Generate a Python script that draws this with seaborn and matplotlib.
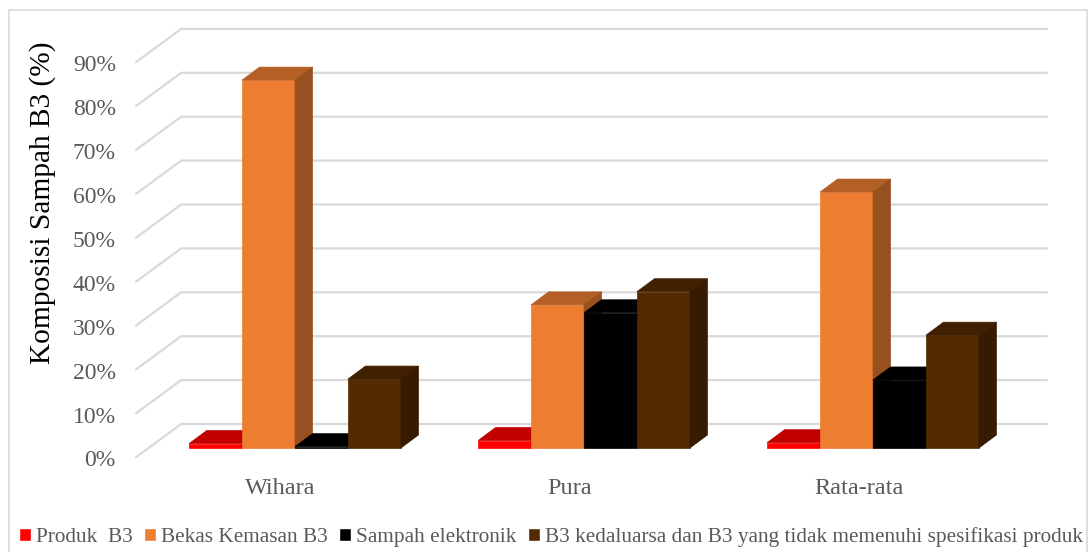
import pandas as pd
import numpy as np
import matplotlib.pyplot as plt
import matplotlib.transforms as mtrans
from matplotlib.patches import Polygon, Rectangle
from matplotlib.colors import to_rgb
import seaborn as sns

lokasi = ["Wihara", "Pura", "Rata-rata"]
jenis = ["Produk  B3", "Bekas Kemasan B3", "Sampah elektronik",
         "B3 kedaluarsa dan B3 yang tidak memenuhi spesifikasi produk"]
produk = [1.0, 1.7, 1.2]
kemasan = [83.8, 32.6, 58.3]
elektronik = [0.3, 30.8, 15.5]
kedaluarsa = [15.7, 35.6, 25.7]
warna = ["#FF0000", "#ED7D31", "#000000", "#542A00"]
ticks = [0, 10, 20, 30, 40, 50, 60, 70, 80, 90]
tick_labels = ["0%", "10%", "20%", "30%", "40%", "50%", "60%", "70%", "80%", "90%"]

W, H = 1088, 552

sns.set_theme(style="white")
plt.rcParams['font.family'] = ['Liberation Serif', 'DejaVu Sans']

df = pd.DataFrame({
    "lokasi": lokasi * 4,
    "jenis": np.repeat(jenis, 3),
    "nilai": produk + kemasan + elektronik + kedaluarsa,
})

fig = plt.figure(figsize=(W / 100, H / 100), dpi=100)
# axes placed so that 1 category = 289 px and 10% = 43.9 px
ax = fig.add_axes([150.5 / W, (H - 448) / H, 867 / W, 395.1 / H])

sns.barplot(data=df, x="lokasi", y="nilai", hue="jenis", hue_order=jenis,
            palette=warna, saturation=1, width=0.733, gap=0, errorbar=None,
            ax=ax, zorder=3)
handles, labels = ax.get_legend_handles_labels()
ax.get_legend().remove()

# depth of the fake 3D, in data units
dx = 17.5 / 289
dy = 13 / 4.39
wall_dy = 24 / 4.39
wall_left, wall_right, stub_left = -0.394, 2.602, -0.55

for t in ticks:
    ax.plot([stub_left, wall_left, wall_right],
            [t - 2.1, t + wall_dy, t + wall_dy],
            color="#D9D9D9", lw=1.6, zorder=1, clip_on=False)


def shade(c, f):
    return tuple(v * f for v in to_rgb(c))


for i, cont in enumerate(ax.containers):
    for bar in cont:
        x0, x1 = bar.get_x(), bar.get_x() + bar.get_width()
        y1 = bar.get_height()
        bar.set_zorder(3 + i)
        bar.set_edgecolor(warna[i])
        bar.set_linewidth(0.5)
        bar.set_clip_on(False)
        top = Polygon([(x0, y1), (x1, y1), (x1 + dx, y1 + dy), (x0 + dx, y1 + dy)],
                      facecolor=shade(warna[i], 0.76), edgecolor=shade(warna[i], 0.76),
                      lw=0.5, zorder=3 + i + 0.5, clip_on=False)
        side = Polygon([(x1, 0), (x1 + dx, dy), (x1 + dx, y1 + dy), (x1, y1)],
                       facecolor=shade(warna[i], 0.64), edgecolor=shade(warna[i], 0.64),
                       lw=0.5, zorder=3 + i + 0.5, clip_on=False)
        ax.add_patch(top)
        ax.add_patch(side)

ax.set_xlim(-0.5, 2.5)
ax.set_ylim(0, 90)
ax.set_yticks(ticks)
ax.set_yticklabels(tick_labels)
ax.set_xlabel("")
ax.tick_params(axis="y", length=0, pad=25, labelsize=17, labelcolor="#595959")
ax.tick_params(axis="x", length=0, pad=21.5, labelsize=17.5, labelcolor="#595959")
sns.despine(ax=ax, left=True, bottom=True)
ax.patch.set_alpha(0)

# labels sit on the front edge of the floor, not on the back wall
shift_y = mtrans.ScaledTranslation(0, -10.5 / 100, fig.dpi_scale_trans)
shift_x = mtrans.ScaledTranslation(-14.5 / 100, 0, fig.dpi_scale_trans)
for lab in ax.get_yticklabels():
    lab.set_transform(lab.get_transform() + shift_y)
for lab in ax.get_xticklabels():
    lab.set_transform(lab.get_transform() + shift_x)

ax.set_ylabel("Komposisi Sampah B3 (%)", fontsize=21.2, color="black", va="center")
ax.yaxis.set_label_coords(43 / W, 1 - 203 / H, transform=fig.transFigure)

fig.legend(handles, labels, loc="center left", bbox_to_anchor=(19 / W, 1 - 537 / H),
           ncol=4, frameon=False, fontsize=15.3, labelcolor="#595959",
           handlelength=0.56, handleheight=0.56, handletextpad=0.24,
           columnspacing=0.54, borderpad=0, borderaxespad=0)

fig.add_artist(Rectangle((8.5 / W, -0.05), (1086.5 - 8.5) / W, 1.05 - 10 / H,
                         transform=fig.transFigure, fill=False,
                         edgecolor="#D9D9D9", lw=1.2))

fig.savefig("out.png", dpi=100)
